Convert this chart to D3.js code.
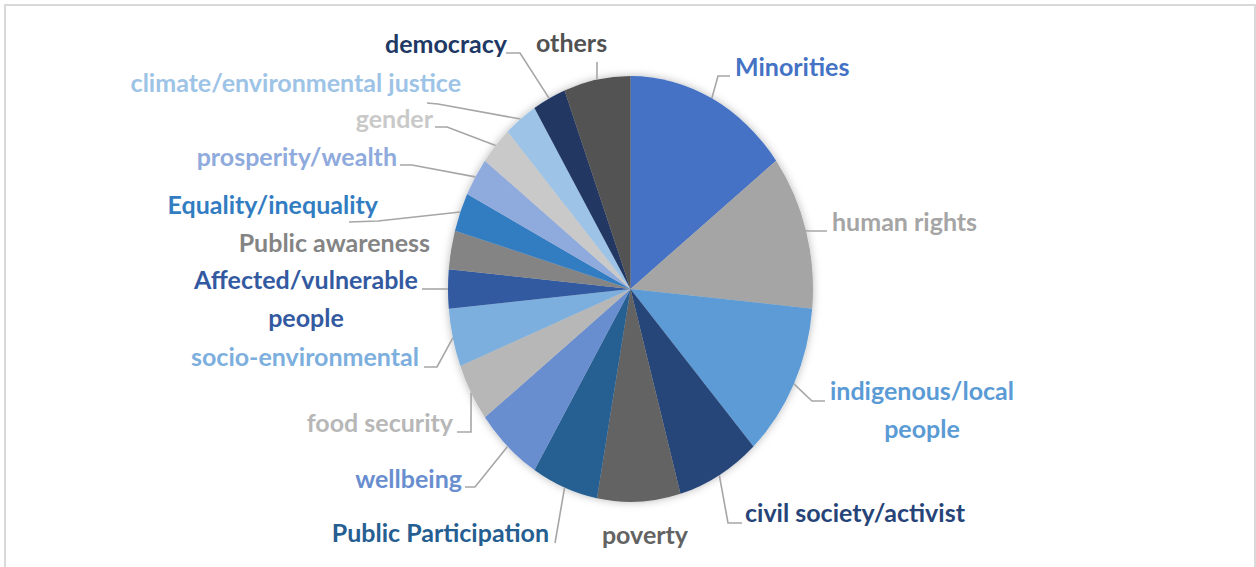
<!DOCTYPE html>
<html>
<head>
<meta charset="utf-8">
<script src="https://cdn.jsdelivr.net/npm/d3@7"></script>
<style>
  body { margin: 0; background: #ffffff; }
  svg { display: block; }
</style>
</head>
<body>
<svg id="chart" width="1256" height="567"></svg>
<script>
// Topics mentioned, counted per category (clockwise from 12 o'clock)
const categories = [
  "Minorities", "human rights", "indigenous/local people", "civil society/activist",
  "poverty", "Public Participation", "wellbeing", "food security",
  "socio-environmental", "Affected/vulnerable people", "Public awareness",
  "Equality/inequality", "prosperity/wealth", "gender",
  "climate/environmental justice", "democracy", "others"
];
const counts = [10, 8, 8, 5, 5, 4, 4, 3, 3, 2, 2, 2, 2, 2, 2, 2, 4];

// Label text, split into lines
const labelLines = [
  ["Minorities"], ["human rights"], ["indigenous/local", "people"], ["civil society/activist"],
  ["poverty"], ["Public Participation"], ["wellbeing"], ["food security"],
  ["socio-environmental"], ["Affected/vulnerable", "people"], ["Public awareness"],
  ["Equality/inequality"], ["prosperity/wealth"], ["gender"],
  ["climate/environmental justice"], ["democracy"], ["others"]
];

const sliceColors = [
  "#4472C4", "#A5A5A5", "#5B9BD5", "#264478",
  "#636363", "#255E91", "#698ED0", "#B7B7B7",
  "#7CAFDD", "#335AA1", "#848484", "#327DC2",
  "#8FAADC", "#C9C9C9", "#9DC3E6", "#203864", "#525252"
];

// Label placement: first baseline, anchor, and leader elbow points (label side first)
const labelLayout = [
  { x: 735, y: 76,  anchor: "start",  leader: [[730, 76], [718, 76]] },
  { x: 832, y: 231, anchor: "start",  leader: [[827, 231], [810, 231]] },
  { x: 922, y: 400, anchor: "middle", leader: [[825, 401], [812, 401]] },
  { x: 745, y: 522, anchor: "start",  leader: [[742, 523], [728, 523]] },
  { x: 645, y: 544, anchor: "middle", leader: null },
  { x: 549, y: 542, anchor: "end",    leader: [[555, 543]] },
  { x: 462, y: 488, anchor: "end",    leader: [[465, 487], [475, 487]] },
  { x: 453, y: 432, anchor: "end",    leader: [[457, 432], [471, 432]] },
  { x: 419, y: 366, anchor: "end",    leader: [[424, 367], [437, 367]] },
  { x: 306, y: 289, anchor: "middle", leader: [[422, 289]] },
  { x: 430, y: 252, anchor: "end",    leader: null },
  { x: 378, y: 214, anchor: "end",    leader: [[349, 222], [378, 221]] },
  { x: 397, y: 166, anchor: "end",    leader: [[400, 165], [412, 165]] },
  { x: 433, y: 128, anchor: "end",    leader: [[435, 127], [447, 127]] },
  { x: 461, y: 92,  anchor: "end",    leader: [[427, 103], [438, 104]] },
  { x: 507, y: 53,  anchor: "end",    leader: [[506, 53], [520, 53]] },
  { x: 536, y: 52,  anchor: "start",  leader: [[597, 62]] }
];

const svg = d3.select("#chart");
const cx = 630.5, cy = 289, rx = 182.5, ry = 213;

// frame
svg.append("rect")
  .attr("x", 5).attr("y", 5).attr("width", 1250).attr("height", 575)
  .attr("fill", "#ffffff").attr("stroke", "#d9d9d9").attr("stroke-width", 2);

const defs = svg.append("defs");
const shadow = defs.append("filter").attr("id", "pieShadow")
  .attr("x", "-20%").attr("y", "-20%").attr("width", "140%").attr("height", "140%");
shadow.append("feDropShadow")
  .attr("dx", 0).attr("dy", 0).attr("stdDeviation", 4)
  .attr("flood-color", "#000000").attr("flood-opacity", 0.28);

const data = categories.map((c, i) => ({ name: c, value: counts[i], i }));
const pie = d3.pie().value(d => d.value).sort(null);
const arcs = pie(data);
const arc = d3.arc().innerRadius(0).outerRadius(ry);
const rimArc = d3.arc().innerRadius(ry).outerRadius(ry);

// slices, stretched into an ellipse
const pieG = svg.append("g")
  .attr("filter", "url(#pieShadow)")
  .append("g")
  .attr("transform", `translate(${cx},${cy}) scale(${rx / ry},1)`);

pieG.selectAll("path.slice")
  .data(arcs)
  .join("path")
  .attr("class", "slice")
  .attr("d", arc)
  .attr("fill", d => sliceColors[d.data.i]);

// leader lines from slice rim to label
const line = d3.line();
const leaderG = svg.append("g");
arcs.forEach(a => {
  const lay = labelLayout[a.data.i];
  if (!lay.leader) return;
  const c = rimArc.centroid(a);
  const rim = [cx + c[0] * rx / ry, cy + c[1]];
  const pts = lay.leader.concat([rim]);
  leaderG.append("path")
    .attr("d", line(pts))
    .attr("fill", "none")
    .attr("stroke", "#a6a6a6")
    .attr("stroke-width", 1.6);
});

// labels
const labelG = svg.append("g")
  .attr("font-family", "Lato, 'Open Sans', sans-serif")
  .attr("font-weight", "bold")
  .attr("font-size", 25);

data.forEach(d => {
  const lay = labelLayout[d.i];
  const t = labelG.append("text")
    .attr("x", lay.x).attr("y", lay.y)
    .attr("text-anchor", lay.anchor)
    .attr("fill", sliceColors[d.i]);
  labelLines[d.i].forEach((ln, k) => {
    t.append("tspan").attr("x", lay.x).attr("dy", k === 0 ? 0 : 38).text(ln);
  });
});
</script>
</body>
</html>
